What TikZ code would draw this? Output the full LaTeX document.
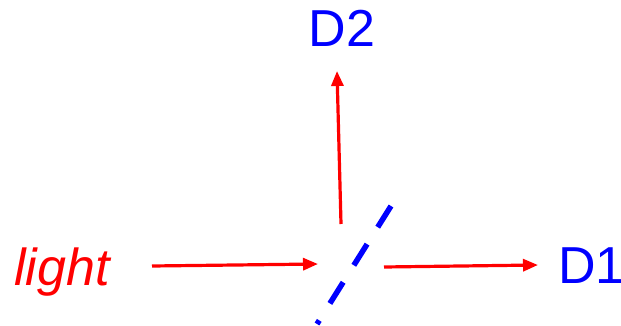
\documentclass[tikz,border=0pt]{standalone}
\usepackage{fontspec}
\setmainfont{Liberation Sans}
\usetikzlibrary{arrows.meta}
\begin{document}
\begin{tikzpicture}[x=1pt,y=-1pt,
  ray/.style={draw=red,line width=3.2pt,-{Triangle[length=15pt,width=12pt]}},
  lbl/.style={inner sep=0pt,font=\fontsize{52}{60}\selectfont},
  splitter/.style={draw=blue,line width=5.5pt,dash pattern=on 25pt off 20pt}]
\useasboundingbox (0,0) rectangle (621,326);
\node[lbl,text=blue,anchor=base west] (D1) at (558,283) {D1\kern-5pt};
\node[lbl,text=red,anchor=base west,font=\fontsize{52}{60}\selectfont\itshape] (light) at (14,285) {light};
\node[lbl,text=blue,anchor=base] (D2) at (342,47) {D2};
\coordinate (inS) at (152,266);
\coordinate (inE) at (318,264);
\coordinate (upS) at (341,224);
\coordinate (upE) at (337,71);
\coordinate (rtS) at (384,267);
\coordinate (rtE) at (538,265);
\coordinate (bsA) at (391,206);
\coordinate (bsB) at (317,324);
\draw[ray] (inS) -- (inE);
\draw[ray] (upS) -- (upE);
\draw[ray] (rtS) -- (rtE);
\draw[splitter] (bsA) -- (bsB);
\end{tikzpicture}
\end{document}
